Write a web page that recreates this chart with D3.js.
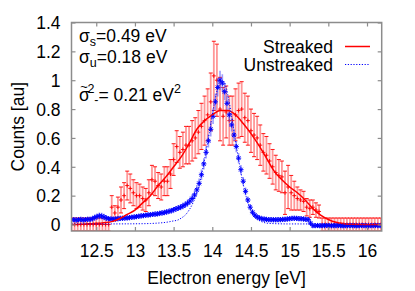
<!DOCTYPE html>
<html><head><meta charset="utf-8">
<script src="https://cdn.jsdelivr.net/npm/d3@7"></script>
<style>
body{margin:0;background:#fff}
svg{display:block}
text{font-family:"Liberation Sans",Arial,Helvetica,sans-serif;fill:#000}
</style>
</head><body>
<svg id="chart" width="415" height="291"></svg>
<script>
// ---------- data ----------
const xTicks = [12.5, 13, 13.5, 14, 14.5, 15, 15.5, 16];
const xTickLabels = ["12.5", "13", "13.5", "14", "14.5", "15", "15.5", "16"];
const yTicks = [0, 0.2, 0.4, 0.6, 0.8, 1, 1.2, 1.4];
const yTickLabels = ["0", "0.2", "0.4", "0.6", "0.8", "1", "1.2", "1.4"];

// Streaked measurement (energy grid start/step, values, errors)
const redStart = 12.18, redStep = 0.04;
const redVal = [
  0,0,0,0,0,0,0,0,0,0,0,0,0,
  0.12,0.08,0.12,0.17,0.20,0.27,0.25,0.22,
  0.20,0.20,0.18,0.17,0.22,0.31,0.30,0.27,0.26,0.30,
  0.30,0.35,0.45,0.54,0.50,0.52,0.55,0.55,0.58,0.60,
  0.64,0.68,0.72,0.76,0.85,1.03,1.00,0.80,0.75,0.78,
  0.72,0.72,0.76,0.79,0.80,0.74,0.72,0.65,0.62,0.60,
  0.55,0.50,0.48,0.44,0.40,0.36,0.34,0.33,0.22,0.26,
  0.22,0.20,0.18,0.17,0.16,0.12,0.11,0.12,0.10,0.09,
  0,0,0,0,0,0,0,0,0,0,0,0,0,0,0,0,0,0,0,0
];
const redErr = [
  0.045,0.045,0.045,0.045,0.045,0.045,0.045,0.045,0.045,0.045,0.045,0.045,0.045,
  0.08,0.05,0.07,0.09,0.09,0.10,0.10,0.09,
  0.09,0.08,0.08,0.08,0.09,0.10,0.10,0.09,0.09,0.10,
  0.10,0.10,0.11,0.11,0.11,0.12,0.13,0.13,0.14,0.14,
  0.15,0.16,0.17,0.18,0.20,0.24,0.25,0.22,0.20,0.18,
  0.17,0.17,0.18,0.19,0.19,0.17,0.17,0.15,0.15,0.15,
  0.14,0.13,0.13,0.12,0.12,0.12,0.11,0.11,0.15,0.15,
  0.12,0.10,0.08,0.07,0.07,0.06,0.06,0.05,0.05,0.045,
  0.045,0.045,0.045,0.045,0.045,0.045,0.045,0.045,0.045,0.045,
  0.045,0.045,0.045,0.045,0.045,0.045,0.045,0.045,0.045,0.045
];

// Unstreaked measurement
const blueStart = 12.18, blueStep = 0.03;
const blueVal = [
  0.032,0.034,0.031,0.033,0.035,0.032,0.034,0.036,0.035,0.040,
  0.048,0.055,0.060,0.058,0.052,0.045,0.040,0.038,0.037,0.038,
  0.040,0.042,0.043,0.045,0.046,0.048,0.050,0.052,0.055,0.057,
  0.060,0.062,0.064,0.066,0.068,0.070,0.072,0.074,0.077,0.080,
  0.083,0.087,0.091,0.096,0.102,0.108,0.114,0.120,0.128,0.137,
  0.148,0.162,0.180,0.205,0.240,0.285,0.345,0.420,0.500,0.580,
  0.660,0.750,0.850,0.950,1.000,0.980,0.920,0.840,0.760,0.690,
  0.620,0.540,0.460,0.380,0.300,0.230,0.170,0.120,0.085,0.065,
  0.052,0.045,0.040,0.037,0.035,0.034,0.034,0.033,0.033,0.034,
  0.034,0.035,0.036,0.038,0.040,0.042,0.043,0.042,0.041,0.040,
  0.038,0.036,0.034,0.010,-0.008,-0.008,-0.007,-0.009,-0.008,-0.008,
  -0.007,-0.008,-0.009,-0.008,-0.008,-0.007,-0.008,-0.009,-0.008,-0.008,
  -0.007,-0.008,-0.008,-0.009,-0.008,-0.007,-0.008,-0.008,-0.009,-0.008,
  -0.008,-0.007,-0.008,-0.008
];
const blueErr = [
  0.018,0.018,0.018,0.018,0.018,0.018,0.018,0.018,0.018,0.018,
  0.020,0.022,0.024,0.024,0.022,0.020,0.018,0.018,0.018,0.018,
  0.018,0.018,0.018,0.018,0.018,0.018,0.018,0.018,0.018,0.018,
  0.018,0.018,0.018,0.018,0.018,0.018,0.018,0.018,0.018,0.018,
  0.018,0.018,0.019,0.019,0.020,0.020,0.021,0.021,0.022,0.023,
  0.024,0.026,0.028,0.030,0.032,0.034,0.036,0.039,0.042,0.046,
  0.050,0.054,0.058,0.062,0.065,0.062,0.058,0.054,0.050,0.046,
  0.042,0.039,0.036,0.033,0.030,0.027,0.024,0.022,0.020,0.019,
  0.018,0.018,0.018,0.018,0.018,0.018,0.018,0.018,0.018,0.018,
  0.018,0.018,0.018,0.018,0.018,0.018,0.018,0.018,0.018,0.018,
  0.018,0.018,0.018,0.018,0.015,0.015,0.015,0.015,0.015,0.015,
  0.015,0.015,0.015,0.015,0.015,0.015,0.015,0.015,0.015,0.015,
  0.015,0.015,0.015,0.015,0.015,0.015,0.015,0.015,0.015,0.015,
  0.015,0.015,0.015,0.015
];

// Fit curves
const redFitE = [12.18,12.3,12.4,12.5,12.6,12.7,12.8,12.9,13.0,13.1,13.2,13.3,13.4,13.5,13.6,13.7,13.8,13.9,14.0,14.1,14.2,14.3,14.4,14.5,14.6,14.7,14.8,14.9,15.0,15.1,15.2,15.3,15.4,15.5,15.6,15.7,15.8,16.19];
const redFitV = [0.0,0.002,0.005,0.008,0.013,0.02,0.04,0.07,0.10,0.15,0.20,0.27,0.33,0.40,0.47,0.56,0.66,0.72,0.76,0.79,0.79,0.76,0.70,0.63,0.55,0.46,0.37,0.31,0.26,0.22,0.17,0.11,0.065,0.035,0.015,0.006,0.002,0.0];
const blueFitE = [12.18,12.6,13.0,13.2,13.3,13.4,13.5,13.55,13.6,13.65,13.7,13.75,13.8,13.85,13.9,13.95,14.0,14.05,14.1,14.15,14.2,14.25,14.3,14.35,14.4,14.45,14.5,14.55,14.6,14.65,14.7,14.8,15.0,16.19];
const blueFitV = [0.004,0.004,0.005,0.007,0.010,0.015,0.025,0.030,0.045,0.065,0.10,0.15,0.22,0.32,0.45,0.60,0.76,0.90,0.99,0.99,0.90,0.75,0.58,0.42,0.28,0.17,0.10,0.055,0.03,0.017,0.01,0.006,0.004,0.004];

const legendLabels = ["Streaked", "Unstreaked"];

// ---------- layout ----------
const svg = d3.select("#chart");
const L = 71.5, R = 381.7, T = 22.5, B = 231;
const x = d3.scaleLinear().domain([12.18, 16.19]).range([L, R]);
const y = d3.scaleLinear().domain([-0.045, 1.4]).range([B, T]);
const RED = "#ff0000", BLUE = "#0000ff";
const FS = 17.5;

svg.append("defs").append("clipPath").attr("id", "clip")
  .append("rect").attr("x", L).attr("y", T).attr("width", R - L).attr("height", B - T);

const red = redVal.map((v, i) => ({e: redStart + i * redStep, v, err: redErr[i]}));
const blue = blueVal.map((v, i) => ({e: blueStart + i * blueStep, v, err: blueErr[i]}));

const plot = svg.append("g").attr("clip-path", "url(#clip)");

// red error bars
const rg = plot.append("g");
rg.selectAll("line.bar").data(red).join("line")
  .attr("x1", d => x(d.e)).attr("x2", d => x(d.e))
  .attr("y1", d => y(d.v - d.err)).attr("y2", d => y(d.v + d.err))
  .attr("stroke", "#ff6b6b").attr("stroke-width", 1.8).attr("stroke-opacity", 0.7);
["top", "bot"].forEach(k => {
  rg.selectAll("line.cap" + k).data(red).join("line")
    .attr("x1", d => x(d.e) - 2).attr("x2", d => x(d.e) + 2)
    .attr("y1", d => y(k === "top" ? d.v + d.err : d.v - d.err))
    .attr("y2", d => y(k === "top" ? d.v + d.err : d.v - d.err))
    .attr("stroke", RED).attr("stroke-width", 0.9);
});
rg.selectAll("path.plus").data(red).join("path")
  .attr("d", d => `M${x(d.e) - 2},${y(d.v)}h4M${x(d.e)},${y(d.v) - 2}v4`)
  .attr("stroke", RED).attr("stroke-width", 0.9).attr("fill", "none");

// blue data
const bg = plot.append("g");
bg.selectAll("line").data(blue).join("line")
  .attr("x1", d => x(d.e)).attr("x2", d => x(d.e))
  .attr("y1", d => y(d.v - d.err)).attr("y2", d => y(d.v + d.err))
  .attr("stroke", "#4848ff").attr("stroke-width", 1.6).attr("stroke-opacity", 0.55);
bg.selectAll("path").data(blue).join("path")
  .attr("d", d => {
    const cx = x(d.e), cy = y(d.v), s = 2.6, t = 1.9;
    return `M${cx - s},${cy}h${2 * s}M${cx},${cy - s}v${2 * s}M${cx - t},${cy - t}l${2 * t},${2 * t}M${cx - t},${cy + t}l${2 * t},${-2 * t}`;
  })
  .attr("stroke", BLUE).attr("stroke-width", 1).attr("fill", "none");

// fit curves
const line = d3.line().x(d => x(d[0])).y(d => y(d[1])).curve(d3.curveMonotoneX);
plot.append("path").datum(redFitE.map((e, i) => [e, redFitV[i]]))
  .attr("d", line).attr("fill", "none").attr("stroke", RED).attr("stroke-width", 1.5);
plot.append("path").datum(blueFitE.map((e, i) => [e, blueFitV[i]]))
  .attr("d", line).attr("fill", "none").attr("stroke", BLUE).attr("stroke-width", 1)
  .attr("stroke-dasharray", "1.2,1.6");

// ---------- frame & axes ----------
const FR = "#8c8c8c";
svg.append("rect").attr("x", L).attr("y", T).attr("width", R - L).attr("height", B - T)
  .attr("fill", "none").attr("stroke", FR).attr("stroke-width", 1.5);

const xAxB = d3.axisBottom(x).tickValues(xTicks).tickSizeInner(-4).tickSizeOuter(0).tickFormat((d, i) => xTickLabels[i]);
const gx = svg.append("g").attr("transform", `translate(0,${B})`).call(xAxB);
gx.select(".domain").remove();
gx.selectAll("line").attr("stroke", FR).attr("stroke-width", 1.2);
gx.selectAll("text").attr("font-size", FS).attr("dy", null).attr("y", 25.5).attr("fill", "#000");

const xAxT = d3.axisTop(x).tickValues(xTicks).tickSizeInner(-4).tickSizeOuter(0).tickFormat("");
const gxt = svg.append("g").attr("transform", `translate(0,${T})`).call(xAxT);
gxt.select(".domain").remove();
gxt.selectAll("line").attr("stroke", FR).attr("stroke-width", 1.2);

const yAxL = d3.axisLeft(y).tickValues(yTicks).tickSizeInner(-4).tickSizeOuter(0).tickFormat((d, i) => yTickLabels[i]);
const gy = svg.append("g").attr("transform", `translate(${L},0)`).call(yAxL);
gy.select(".domain").remove();
gy.selectAll("line").attr("stroke", FR).attr("stroke-width", 1.2);
gy.selectAll("text").attr("font-size", FS).attr("x", -11).attr("dy", "0.36em").attr("fill", "#000");

const yAxR = d3.axisRight(y).tickValues(yTicks).tickSizeInner(-4).tickSizeOuter(0).tickFormat("");
const gyr = svg.append("g").attr("transform", `translate(${R},0)`).call(yAxR);
gyr.select(".domain").remove();
gyr.selectAll("line").attr("stroke", FR).attr("stroke-width", 1.2);

// axis titles
svg.append("text").attr("x", (L + R) / 2).attr("y", 284).attr("text-anchor", "middle")
  .attr("font-size", FS).text("Electron energy [eV]");
svg.append("text").attr("transform", `translate(23.5,${(T + B) / 2}) rotate(-90)`)
  .attr("text-anchor", "middle").attr("font-size", FS).text("Counts [au]");

// legend
svg.append("text").attr("x", 333).attr("y", 52.5).attr("text-anchor", "end").attr("font-size", FS).text(legendLabels[0]);
svg.append("text").attr("x", 333).attr("y", 70.5).attr("text-anchor", "end").attr("font-size", FS).text(legendLabels[1]);
svg.append("line").attr("x1", 345).attr("x2", 370).attr("y1", 46.5).attr("y2", 46.5)
  .attr("stroke", RED).attr("stroke-width", 1.5);
svg.append("line").attr("x1", 345).attr("x2", 370).attr("y1", 64.5).attr("y2", 64.5)
  .attr("stroke", BLUE).attr("stroke-width", 1).attr("stroke-dasharray", "1.2,1.6");

// annotations
const a1 = svg.append("text").attr("x", 79).attr("y", 42).attr("font-size", FS);
a1.append("tspan").text("σ");
a1.append("tspan").attr("font-size", 12.5).attr("dy", 4).text("s");
a1.append("tspan").attr("dy", -4).text("=0.49 eV");

const a2 = svg.append("text").attr("x", 79).attr("y", 63).attr("font-size", FS);
a2.append("tspan").text("σ");
a2.append("tspan").attr("font-size", 12.5).attr("dy", 4).text("u");
a2.append("tspan").attr("dy", -4).text("=0.18 eV");

const a3 = svg.append("text").attr("x", 79).attr("y", 101).attr("font-size", FS);
a3.append("tspan").text("σ");
a3.append("tspan").attr("font-size", 13).attr("dx", -9.5).attr("dy", -10).text("~");
a3.append("tspan").attr("font-size", 12.5).attr("dx", -0.5).attr("dy", 2).text("2");
a3.append("tspan").attr("font-size", 12.5).attr("dy", 11).text("-");
a3.append("tspan").attr("dy", -3).text("= 0.21 eV");
a3.append("tspan").attr("font-size", 12.5).attr("dy", -8).text("2");
</script>
</body></html>
